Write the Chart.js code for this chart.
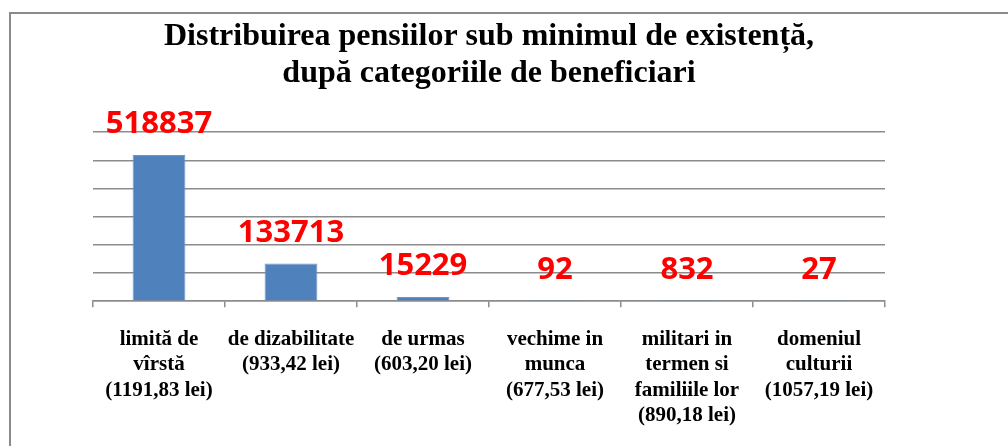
<!DOCTYPE html>
<html>
<head>
<meta charset="utf-8">
<script src="https://cdn.jsdelivr.net/npm/chart.js@4/dist/chart.umd.min.js"></script>
<style>
  html, body { margin: 0; padding: 0; background: #fff; overflow: hidden; }
  #box { position: relative; width: 1008px; height: 446px; overflow: hidden; }
</style>
</head>
<body>
<div id="box"><canvas id="chart"></canvas></div>
<script>
const categories = [
  ["limită de", "vîrstă", "(1191,83 lei)"],
  ["de dizabilitate", "(933,42 lei)"],
  ["de urmas", "(603,20 lei)"],
  ["vechime in", "munca", "(677,53 lei)"],
  ["militari in", "termen si", "familiile lor", "(890,18 lei)"],
  ["domeniul", "culturii", "(1057,19 lei)"]
];
const pensioners = [518837, 133713, 15229, 92, 832, 27];
const yMin = 0;
const yMax = 600000;
const yStep = 100000;

// chenarul graficului (ca in Excel)
const frame = {
  id: "frame",
  beforeDraw(chart) {
    const ctx = chart.ctx;
    ctx.save();
    ctx.strokeStyle = "#8a8a8a";
    ctx.lineWidth = 2;
    ctx.strokeRect(10, 13, 1100, 500);
    ctx.restore();
  }
};

// valorile rosii deasupra barelor
const valueLabels = {
  id: "valueLabels",
  afterDatasetsDraw(chart) {
    const ctx = chart.ctx;
    const meta = chart.getDatasetMeta(0);
    ctx.save();
    ctx.font = "bold 31px 'Open Sans'";
    ctx.fillStyle = "#ff0000";
    ctx.textAlign = "center";
    ctx.textBaseline = "alphabetic";
    meta.data.forEach((bar, i) => {
      ctx.fillText(String(pensioners[i]), bar.x, bar.y - 22);
    });
    ctx.restore();
  }
};

const data = {
  labels: categories,
  datasets: [
    {
      data: pensioners,
      backgroundColor: "#4f81bd",
      borderColor: "#7096c9",
      borderWidth: 1,
      categoryPercentage: 1,
      barPercentage: 0.4,
    },
  ],
};

const config = {
  type: "bar",
  data: data,
  options: {
    responsive: false,
    animation: false,
    layout: { padding: { left: 93, right: 123, top: 0, bottom: 2 } },
    plugins: {
      legend: { display: false },
      tooltip: { enabled: false },
      title: {
        display: true,
        text: ["Distribuirea pensiilor sub minimul de existență,", "după categoriile de beneficiari"],
        color: "#000",
        font: { family: "'Liberation Serif', 'Times New Roman', serif", size: 32, weight: "bold", lineHeight: 1.16 },
        padding: { top: 18, bottom: 40 },
      },
    },
    scales: {
      x: {
        offset: true,
        grid: { display: true, offset: true, drawOnChartArea: false, color: "#8c8c8c", lineWidth: 1.5, tickLength: 6 },
        border: { display: true, color: "#8c8c8c", width: 1.5 },
        ticks: {
          color: "#000",
          font: { family: "'Liberation Serif', 'Times New Roman', serif", size: 21, weight: "bold", lineHeight: 1.2 },
          maxRotation: 0,
          autoSkip: false,
          padding: 20,
        },
      },
      y: {
        min: yMin,
        max: yMax,
        ticks: { display: false, stepSize: yStep },
        grid: { color: "#8c8c8c", lineWidth: 1.5, drawTicks: false },
        border: { display: false },
      },
    },
  },
  plugins: [frame, valueLabels],
};

const canvas = document.getElementById("chart");
canvas.width = 1008;
canvas.height = 450;
const chart = new Chart(canvas.getContext("2d"), config);
</script>
</body>
</html>
